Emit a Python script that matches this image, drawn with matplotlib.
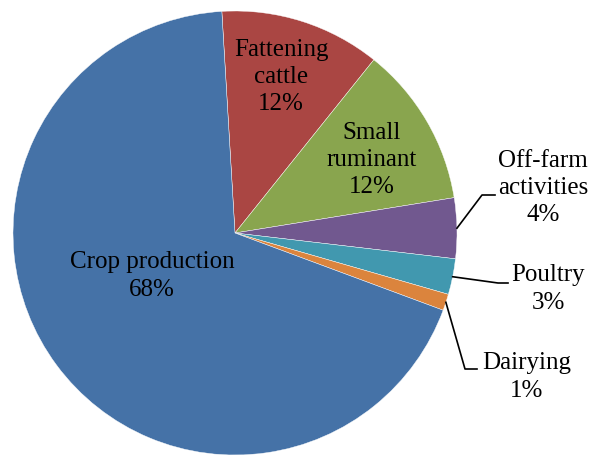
import numpy as np
import matplotlib.pyplot as plt

# slice data, clockwise from the top
names = ["Fattening\ncattle", "Small\nruminant", "Off-farm\nactivities",
         "Poultry", "Dairying", "Crop production"]
shares = [11.7, 11.7, 4.4, 2.6, 1.2, 68.4]
colors = ["#AA4643", "#89A54E", "#71588F", "#4198AF", "#DB843D", "#4572A7"]

W, H = 592, 457
fig = plt.figure(figsize=(W / 100, H / 100), dpi=100)
ax = fig.add_axes([0, 0, 1, 1])

cx, cy, r = 235, H - 233, 222
wedges, _ = ax.pie(shares, colors=colors, startangle=93.4, counterclock=False,
                   center=(cx, cy), radius=r,
                   wedgeprops=dict(edgecolor="white", linewidth=0.3))
ax.set_xlim(0, W)
ax.set_ylim(0, H)
ax.set_aspect("equal")
ax.axis("off")

font = dict(family="Liberation Serif", fontsize=18, color="black",
            ha="center", va="center", multialignment="center", linespacing=1.32)

labels = [f"{n}\n{round(v)}%" for n, v in zip(names, shares)]

# label centres (pixel coords, y from top)
label_pos = [(281, 77), (372, 160), (543, 188), (548, 289), (527, 377), (152, 276)]
for txt, (x, y) in zip(labels, label_pos):
    ax.text(x, H - y, txt, **font)

# leader lines for the small slices: (elbow, end) in pixel coords
leaders = {2: [(482, 195), (495, 195)],
           3: [(498, 283), (508, 283)],
           4: [(465, 369), (477, 369)]}
for i, pts in leaders.items():
    w = wedges[i]
    mid = np.deg2rad((w.theta1 + w.theta2) / 2)
    x0, y0 = cx + r * np.cos(mid), cy + r * np.sin(mid)
    xs = [x0] + [p[0] for p in pts]
    ys = [y0] + [H - p[1] for p in pts]
    ax.plot(xs, ys, color="black", linewidth=1.2)

fig.savefig("out.png", dpi=100)
